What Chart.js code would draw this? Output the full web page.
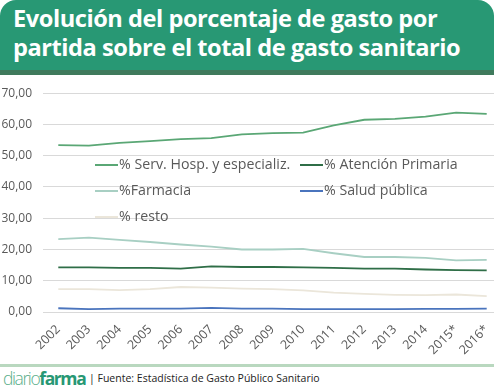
<!DOCTYPE html>
<html>
<head>
<meta charset="utf-8">
<script src="https://cdn.jsdelivr.net/npm/chart.js@4"></script>
<style>
  html, body { margin: 0; padding: 0; background: #fff; }
  body { width: 494px; height: 389px; overflow: hidden; position: relative; }
  #banner {
    position: absolute; left: 0; top: 0; width: 494px; height: 70px;
    background: #289874; border-radius: 16px 16px 0 0;
    border-bottom: 5px solid #3f7a5c;
  }
  #banner h1 {
    margin: 0; position: absolute; left: 13px; top: 4px;
    font-family: "Open Sans", sans-serif; font-weight: 700; font-size: 23.6px;
    line-height: 29px; color: #fff; letter-spacing: -0.45px; white-space: nowrap;
  }
  #wrap { position: absolute; left: 0; top: 75px; width: 502px; height: 285px; }
  #footer {
    position: absolute; left: 0; top: 364px; width: 494px; height: 25px;
    border-top: 3px solid #b9d8bf;
  }
  #footer .logo {
    position: absolute; left: 3px; top: 0px; font-family: "Open Sans", sans-serif;
    font-size: 17.5px; letter-spacing: -1.4px; line-height: 22px;
  }
  #footer .thin { color: #5aae8a; font-weight: 300; }
  #footer .bold { color: #289874; font-weight: 700; }
  #footer .src {
    position: absolute; left: 89px; top: 4px; font-family: "Open Sans", sans-serif;
    font-size: 10.5px; color: #222; line-height: 14px;
  }
</style>
</head>
<body>
<div id="banner"><h1>Evolución del porcentaje de gasto por<br>partida sobre el total de gasto sanitario</h1></div>
<div id="wrap"><canvas id="chart" width="502" height="285"></canvas></div>
<div id="footer">
  <div class="logo"><span class="thin">diario</span><span class="bold">farma</span></div>
  <div class="src">| Fuente: Estadística de Gasto Público Sanitario</div>
</div>
<script>
const years = ["2002", "2003", "2004", "2005", "2006", "2007", "2008", "2009", "2010", "2011", "2012", "2013", "2014", "2015*", "2016*"];
const servHosp = [53.4, 53.2, 54.1, 54.7, 55.3, 55.6, 56.8, 57.2, 57.4, 59.7, 61.5, 61.8, 62.5, 63.8, 63.4];
const atencionPrimaria = [14.3, 14.3, 14.1, 14.1, 13.9, 14.6, 14.4, 14.4, 14.3, 14.1, 13.9, 13.9, 13.6, 13.4, 13.3];
const farmacia = [23.3, 23.8, 23.1, 22.4, 21.6, 20.9, 20.0, 20.0, 20.2, 18.8, 17.6, 17.6, 17.3, 16.5, 16.7];
const saludPublica = [1.2, 0.9, 1.1, 1.1, 1.1, 1.3, 1.1, 1.1, 0.9, 0.9, 0.9, 0.9, 1.0, 1.0, 1.1];
const resto = [7.3, 7.3, 7.0, 7.3, 8.0, 7.8, 7.5, 7.3, 6.9, 6.2, 5.8, 5.5, 5.4, 5.6, 5.1];
const yTicks = [0, 10, 20, 30, 40, 50, 60, 70];

const series = [
  { label: "% Serv. Hosp. y especializ.", data: servHosp, color: "#5aa775", col: 0, row: 0 },
  { label: "% Atención Primaria", data: atencionPrimaria, color: "#2f6e47", col: 1, row: 0 },
  { label: "%Farmacia", data: farmacia, color: "#a8cfc3", col: 0, row: 1 },
  { label: "% Salud pública", data: saludPublica, color: "#4a74bd", col: 1, row: 1 },
  { label: "% resto", data: resto, color: "#ebe6da", col: 0, row: 2 },
];

// legend sits inside the plot area, drawn by hand
const innerLegend = {
  id: "innerLegend",
  afterDraw(chart) {
    const ctx = chart.ctx;
    const colX = [95, 300];
    const rowY = [90, 116, 142];
    ctx.save();
    ctx.font = "14.2px 'Open Sans', sans-serif";
    ctx.textBaseline = "middle";
    series.forEach((s) => {
      const x = colX[s.col];
      const y = rowY[s.row];
      ctx.strokeStyle = s.color;
      ctx.lineWidth = 2;
      ctx.beginPath();
      ctx.moveTo(x, y);
      ctx.lineTo(x + 23, y);
      ctx.stroke();
      ctx.fillStyle = "#595959";
      ctx.fillText(s.label, x + 24, y);
    });
    ctx.restore();
  },
};

new Chart(document.getElementById("chart"), {
  type: "line",
  data: {
    labels: years,
    datasets: series.map((s) => ({
      label: s.label,
      data: s.data,
      borderColor: s.color,
      backgroundColor: s.color,
      borderWidth: 1.8,
      pointRadius: 0,
      tension: 0,
    })),
  },
  options: {
    responsive: false,
    animation: false,
    layout: { padding: { top: 8, left: 0, right: 0, bottom: 0 } },
    plugins: { legend: { display: false }, tooltip: { enabled: false } },
    scales: {
      x: {
        offset: true,
        grid: { display: false },
        border: { display: false },
        ticks: {
          color: "#595959",
          font: { family: "'Open Sans', sans-serif", size: 12.5 },
          minRotation: 45,
          maxRotation: 45,
          padding: 2,
          autoSkip: false,
        },
        afterFit(scale) { scale.height = 48; },
      },
      y: {
        min: 0,
        max: 70,
        afterBuildTicks(scale) { scale.ticks = yTicks.map((v) => ({ value: v })); },
        grid: { color: "#d9d9d9", lineWidth: 1, drawTicks: false },
        border: { display: false },
        ticks: {
          color: "#595959",
          font: { family: "'Open Sans', sans-serif", size: 12 },
          padding: 11,
          callback: (v) => v.toFixed(2).replace(".", ","),
        },
        afterFit(scale) { scale.width = 43; },
      },
    },
  },
  plugins: [innerLegend],
});
</script>
</body>
</html>
